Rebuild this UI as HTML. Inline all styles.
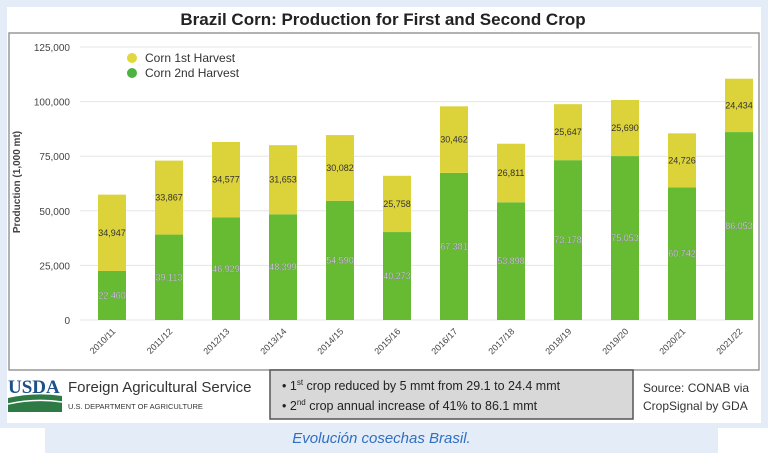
<!DOCTYPE html>
<html><head><meta charset="utf-8"><style>
body{margin:0;width:768px;height:453px;overflow:hidden;background:#fff;font-family:"Liberation Sans",sans-serif}
#bg{position:absolute;left:0;top:0;width:768px;height:428px;background:#e4ecf8}
#panel{position:absolute;left:7px;top:7px;width:754px;height:416px;background:#fff}
#cap{position:absolute;left:45px;top:427px;width:673px;height:26px;background:#e4ecf8;color:#2f6fc0;font-style:italic;font-size:15px;text-align:center;line-height:24px}
svg{position:absolute;left:0;top:0}
</style></head><body>
<div id="bg"></div>
<div id="panel"></div>
<div id="cap">Evolución cosechas Brasil.</div>
<svg id="chart" width="768" height="428">
<text x="383" y="25" text-anchor="middle" font-size="17" font-weight="bold" fill="#222">Brazil Corn: Production for First and Second Crop</text>
<rect x="9" y="33" width="750" height="337" fill="none" stroke="#999" stroke-width="1.5"/>
<g id="grid"></g><g id="bars"></g><g id="xlabels"></g>
<text transform="translate(20,182) rotate(-90)" text-anchor="middle" font-size="10" font-weight="bold" fill="#444">Production (1,000 mt)</text>
<circle cx="132" cy="58" r="5" fill="#e0d83c"/>
<text x="145" y="62" font-size="12" fill="#333">Corn 1st Harvest</text>
<circle cx="132" cy="73" r="5" fill="#4db340"/>
<text x="145" y="77" font-size="12" fill="#333">Corn 2nd Harvest</text>
<g>
<text x="8" y="393" font-size="19" font-weight="bold" fill="#1d4f8a" font-family="Liberation Serif,serif">USDA</text>
<path d="M8 398 Q35 392 62 396 L62 412 L8 412Z" fill="#2d7a45"/>
<path d="M8 404 Q35 398 62 402" stroke="#fff" stroke-width="1.5" fill="none"/>
</g>
<text x="68" y="392" font-size="15" fill="#333">Foreign Agricultural Service</text>
<text x="68" y="409" font-size="7.5" fill="#333">U.S. DEPARTMENT OF AGRICULTURE</text>
<rect x="270" y="370" width="363" height="49" fill="#d8d8d8" stroke="#555" stroke-width="1.5"/>
<text x="282" y="390" font-size="12.5" fill="#222">• 1<tspan font-size="8" dy="-5">st</tspan><tspan dy="5"> crop reduced by 5 mmt from 29.1 to 24.4 mmt</tspan></text>
<text x="282" y="410" font-size="12.5" fill="#222">• 2<tspan font-size="8" dy="-5">nd</tspan><tspan dy="5"> crop annual increase of 41% to 86.1 mmt</tspan></text>
<text x="643" y="392" font-size="12" fill="#333">Source: CONAB via</text>
<text x="643" y="410" font-size="12" fill="#333">CropSignal by GDA</text>
</svg>
<script>
const categories=["2010/11","2011/12","2012/13","2013/14","2014/15","2015/16","2016/17","2017/18","2018/19","2019/20","2020/21","2021/22"];
const firstCrop=[34947,33867,34577,31653,30082,25758,30462,26811,25647,25690,24726,24434];
const secondCrop=[22460,39113,46929,48399,54590,40273,67381,53898,73178,75053,60742,86053];
const yTicks=[0,25000,50000,75000,100000,125000];
const NS="http://www.w3.org/2000/svg";
const y=v=>320-v*273/125000;
const x=i=>112+i*57;
const fmt=v=>v.toLocaleString("en-US");
function mk(t,a,p){const e=document.createElementNS(NS,t);for(const k in a)e.setAttribute(k,a[k]);p.appendChild(e);return e;}
const grid=document.getElementById("grid"),bars=document.getElementById("bars"),xl=document.getElementById("xlabels");
yTicks.forEach(t=>{
 const l=mk("line",{x1:80,x2:752,y1:y(t),y2:y(t),stroke:"#e6e6e6"},grid);
 
 
 const tx=mk("text",{x:70,y:y(t)+4,"text-anchor":"end","font-size":10,fill:"#444"},grid);
 tx.textContent=fmt(t);
 
 
});
categories.forEach((c,i)=>{
 const s=secondCrop[i],f=firstCrop[i],cx=x(i);
 const g=mk("rect",{x:cx-14,width:28,y:y(s),height:y(0)-y(s),fill:"#66bb33"},bars);
 
 
 const yy=mk("rect",{x:cx-14,width:28,y:y(s+f),height:y(s)-y(s+f),fill:"#dcd23a"},bars);
 
 
 const t1=mk("text",{x:cx,y:(y(s)+y(s+f))/2+3,"text-anchor":"middle","font-size":9,fill:"#333"},bars);
 t1.textContent=fmt(f);
 
 
 const t2=mk("text",{x:cx,y:(y(0)+y(s))/2+3,"text-anchor":"middle","font-size":9,fill:"#eef","stroke":"#777","stroke-width":0.3},bars);
 t2.textContent=fmt(s);
 
 
 const tl=mk("text",{transform:`translate(${cx+4},332) rotate(-45)`,"text-anchor":"end","font-size":9,fill:"#444"},xl);
 tl.textContent=c;
 
 
});
</script>
</body></html>
